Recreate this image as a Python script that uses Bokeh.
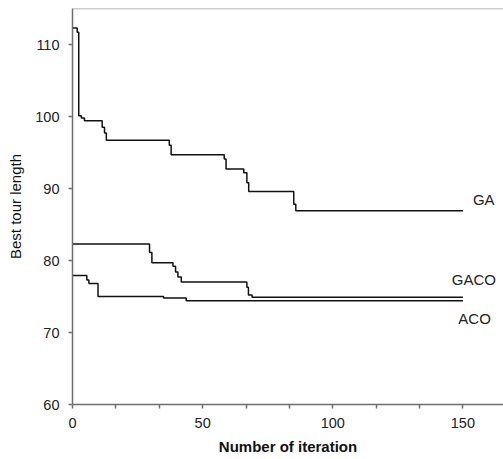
from bokeh.plotting import figure
from bokeh.models import Range1d, FixedTicker, Label, Span
from bokeh.embed import file_html
from bokeh.resources import INLINE

# Data (iteration, best tour length), step-after
ga_x = [0, 1.8, 2.4, 3.4, 4.6, 11.4, 12.3, 13.0, 37.2, 37.9, 58.3, 59.0, 65.8, 67.0, 67.7, 85.0, 85.8, 150]
ga_y = [112.3, 111.7, 100.1, 99.8, 99.4, 98.5, 97.7, 96.7, 96.0, 94.7, 94.1, 92.7, 92.2, 90.8, 89.6, 87.8, 86.9, 86.9]

gaco_x = [0, 29.6, 30.5, 38.6, 39.6, 40.5, 41.8, 67.0, 67.6, 69.0, 150]
gaco_y = [82.3, 81.1, 79.7, 79.2, 78.4, 77.7, 77.0, 76.3, 75.2, 74.9, 74.9]

aco_x = [0, 5.5, 6.3, 9.8, 35.0, 43.7, 150]
aco_y = [77.9, 77.3, 76.8, 75.0, 74.8, 74.4, 74.4]

series_names = ["GA", "GACO", "ACO"]
y_ticks = [60, 70, 80, 90, 100, 110]
x_ticks = [0, 50, 100, 150]
x_minor = [50 / 3, 100 / 3, 200 / 3, 250 / 3, 350 / 3, 400 / 3]

FONT = "Liberation Sans"
AXIS_COLOR = "#6e6e6e"
TEXT_COLOR = "#222222"

p = figure(width=503, height=459, output_backend="svg", toolbar_location=None,
           x_range=Range1d(0, 165.6), y_range=Range1d(60, 115),
           min_border_left=72, min_border_right=0, min_border_top=8, min_border_bottom=55)
p.outline_line_color = None
p.xgrid.visible = False
p.ygrid.visible = False

for ax in (p.xaxis[0], p.yaxis[0]):
    ax.axis_line_color = AXIS_COLOR
    ax.axis_line_width = 1.5
    ax.major_tick_line_color = AXIS_COLOR
    ax.major_tick_line_width = 1.5
    ax.major_tick_in = 0
    ax.major_tick_out = 4
    ax.minor_tick_line_color = None
    ax.major_label_text_font = FONT
    ax.major_label_text_font_size = "14.5px"
    ax.major_label_text_color = TEXT_COLOR
    ax.major_label_standoff = 9
    ax.axis_label_text_font = FONT
    ax.axis_label_text_font_size = "15px"
    ax.axis_label_text_color = "#111111"

p.xaxis.ticker = FixedTicker(ticks=x_ticks, minor_ticks=x_minor)
p.xaxis.minor_tick_line_color = AXIS_COLOR
p.xaxis.minor_tick_line_width = 1.5
p.xaxis.minor_tick_in = 0
p.xaxis.minor_tick_out = 4
p.xaxis.axis_label = "Number of iteration"
p.xaxis.axis_label_text_font_style = "bold"
p.xaxis.axis_label_standoff = 7

p.yaxis.ticker = FixedTicker(ticks=y_ticks)
p.yaxis.axis_label = "Best tour length"
p.yaxis.axis_label_text_font_style = "normal"
p.yaxis.axis_label_standoff = 8

# top frame edge (no right edge in the reference)
p.add_layout(Span(location=p.y_range.end, dimension="width",
                  line_color="#9a9a9a", line_width=1.5))

for xs, ys in ((ga_x, ga_y), (gaco_x, gaco_y), (aco_x, aco_y)):
    p.step(xs, ys, mode="after", line_color="#111111", line_width=1.5)

label_pos = {"GA": (158, 88.5), "GACO": (154.2, 77.4), "ACO": (154.5, 71.9)}
for name in series_names:
    lx, ly = label_pos[name]
    p.add_layout(Label(x=lx, y=ly, text=name, text_align="center", text_baseline="middle",
                       text_font=FONT, text_font_size="15px", text_color=TEXT_COLOR))

open("out.html", "w").write(file_html(p, INLINE))
